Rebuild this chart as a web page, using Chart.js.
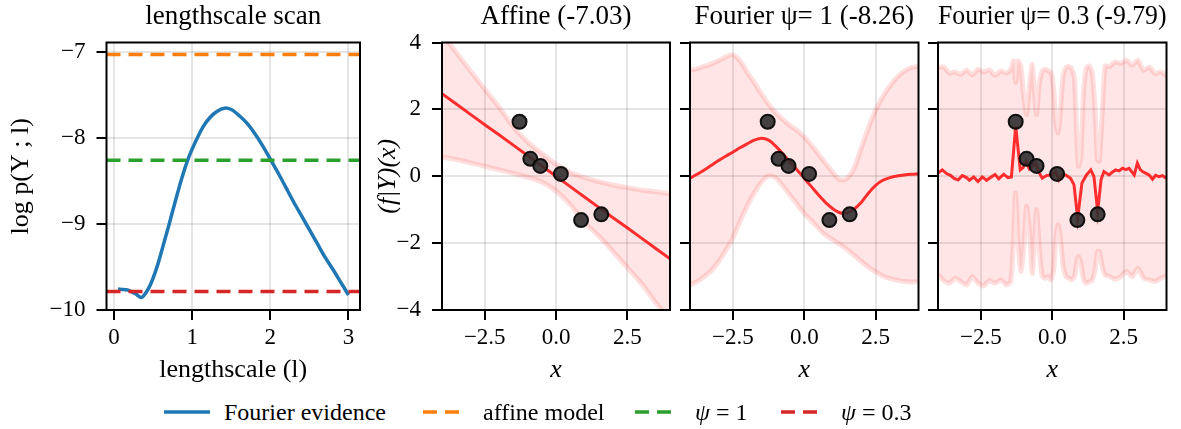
<!DOCTYPE html>
<html>
<head>
<meta charset="utf-8">
<script src="https://cdn.jsdelivr.net/npm/chart.js@4.4.1/dist/chart.umd.min.js"></script>
<style>
  html, body { margin: 0; padding: 0; background: #fff; }
  #wrap { position: relative; width: 1181px; height: 429px; overflow: hidden; font-family: 'Liberation Serif', serif; }
  #wrap canvas { position: absolute; top: 0; }
  .leg-text { position: absolute; top: 398px; font-size: 24px; line-height: 28px; white-space: nowrap; color: #000; }
  .leg-line { position: absolute; top: 400px; }
</style>
</head>
<body>
<div id="wrap">
  <canvas id="scan" width="375" height="390" style="left:0px"></canvas>
  <canvas id="affine" width="310" height="390" style="left:370px"></canvas>
  <canvas id="four1" width="252" height="390" style="left:676px"></canvas>
  <canvas id="four03" width="257" height="390" style="left:924px"></canvas>
</div>
<script>
// ---- lengthscale scan ----
const lsX = [0.05, 0.1, 0.16, 0.22, 0.28, 0.35, 0.41, 0.47, 0.55, 0.62, 0.7, 0.78, 0.87, 0.95, 1.04, 1.14, 1.23, 1.32,
  1.41, 1.5, 1.6, 1.7, 1.8, 1.9, 2.0, 2.1, 2.2, 2.3, 2.4, 2.5, 2.6, 2.7, 2.8, 2.9, 3.0];
const lsEvidence = [-9.76, -9.765, -9.77, -9.79, -9.82, -9.86, -9.80, -9.70, -9.50, -9.28, -9.02, -8.75, -8.46, -8.24,
  -8.05, -7.87, -7.76, -7.69, -7.655, -7.67, -7.74, -7.83, -7.95, -8.09, -8.25, -8.41, -8.58, -8.75, -8.91, -9.07,
  -9.23, -9.39, -9.53, -9.68, -9.83];
const refLevels = [-7.03, -8.26, -9.79];
const refColors = ['#ff7f0e', '#2ca02c', '#d62728'];
const lsTicks = [0, 1, 2, 3];
const evTicks = [-10, -9, -8, -7];

// ---- observations ----
const obsX = [-1.28, -0.9, -0.55, 0.17, 0.88, 1.59];
const obsY = [1.63, 0.52, 0.31, 0.07, -1.31, -1.14];

// ---- affine posterior ----
const affX = [-4, -3.5, -3, -2.5, -2, -1.5, -1, -0.5, 0, 0.5, 1, 1.5, 2, 2.5, 3, 3.5, 4];
const affMean = [2.47, 2.16, 1.85, 1.54, 1.24, 0.93, 0.62, 0.31, 0.0, -0.31, -0.62, -0.93, -1.24, -1.54, -1.85, -2.16, -2.47];
const affUpper = [4.25, 3.70, 3.15, 2.60, 2.07, 1.48, 1.03, 0.68, 0.36, 0.12, -0.04, -0.16, -0.26, -0.34, -0.41, -0.46, -0.52];
const affLower = [0.58, 0.50, 0.40, 0.30, 0.19, 0.09, -0.03, -0.17, -0.44, -0.85, -1.38, -1.79, -2.25, -2.73, -3.21, -3.78, -4.3];

// ---- Fourier psi = 1 ----
const f1X = [-4, -3.75, -3.5, -3.25, -3, -2.75, -2.5, -2.25, -2, -1.75, -1.5, -1.25, -1, -0.75, -0.5, -0.25, 0,
  0.25, 0.5, 0.75, 1, 1.25, 1.5, 1.75, 2, 2.25, 2.5, 2.75, 3, 3.25, 3.5, 3.75, 4];
const f1Mean = [-0.06, 0.06, 0.19, 0.33, 0.47, 0.60, 0.72, 0.85, 0.97, 1.08, 1.14, 1.08, 0.90, 0.67, 0.42, 0.19, -0.06,
  -0.31, -0.56, -0.79, -0.97, -1.09, -1.09, -0.98, -0.78, -0.50, -0.27, -0.12, -0.04, 0.01, 0.04, 0.06, 0.07];
const f1Upper = [3.18, 3.22, 3.29, 3.36, 3.46, 3.57, 3.63, 3.45, 3.11, 2.80, 2.47, 2.15, 1.90, 1.70, 1.52, 1.37, 1.18,
  0.93, 0.66, 0.38, 0.12, -0.10, -0.06, 0.25, 0.86, 1.45, 1.98, 2.38, 2.70, 2.96, 3.14, 3.25, 3.28];
const f1Lower = [-3.25, -3.15, -3.00, -2.82, -2.55, -2.22, -1.85, -1.35, -0.89, -0.50, -0.18, 0.01, -0.05, -0.29, -0.56,
  -0.84, -1.11, -1.33, -1.56, -1.76, -1.90, -2.04, -2.19, -2.37, -2.55, -2.72, -2.86, -2.98, -3.06, -3.11, -3.15, -3.16, -3.15];

// ---- Fourier psi = 0.3 ----
const f03MeanX = [-4.0, -3.85, -3.7, -3.55, -3.45, -3.3, -3.15, -3.0, -2.9, -2.75,
  -2.6, -2.45, -2.3, -2.15, -2.0, -1.87, -1.7, -1.55, -1.43, -1.28,
  -1.12, -1.02, -0.92, -0.8, -0.7, -0.58, -0.47, -0.35, -0.2, -0.05,
  0.12, 0.23, 0.35, 0.47, 0.64, 0.76, 0.89, 1.04, 1.2, 1.35,
  1.46, 1.59, 1.71, 1.81, 1.99, 2.1, 2.22, 2.34, 2.46, 2.58,
  2.69, 2.87, 2.98, 3.08, 3.16, 3.3, 3.39, 3.51, 3.62, 3.74,
  3.86, 3.98];
const f03Mean = [0.10, 0.19, 0.08, 0.02, -0.06, -0.11, 0.02, -0.04, -0.12, -0.02,
  -0.16, -0.02, -0.12, -0.03, 0.05, -0.08, 0.06, -0.04, -0.02, 1.50,
  0.19, 0.26, 0.44, 0.22, 0.30, 0.39, 0.12, -0.06, 0.02, 0.04,
  0.14, -0.11, 0.05, 0.04, -0.06, -0.25, -1.25, -0.2, 0.04, 0.19,
  -0.01, -1.05, -0.1, 0.14, 0.04, 0.12, 0.19, 0.16, 0.24, 0.20,
  0.24, 0.04, 0.39, 0.20, 0.14, 0.08, 0.04, -0.09, 0.03, -0.01,
  0.02, -0.06];
const f03BandX = [-4, -3.8, -3.6, -3.4, -3.2, -3.0, -2.8, -2.6, -2.4, -2.2,
  -2.0, -1.8, -1.6, -1.45, -1.35, -1.28, -1.2, -1.1, -1.0, -0.9,
  -0.8, -0.7, -0.62, -0.55, -0.45, -0.35, -0.25, -0.15, -0.05, 0.05,
  0.12, 0.2, 0.28, 0.38, 0.48, 0.58, 0.68, 0.78, 0.86, 0.92,
  1.0, 1.1, 1.2, 1.3, 1.4, 1.5, 1.58, 1.65, 1.75, 1.85,
  2.0, 2.2, 2.4, 2.6, 2.8, 3.0, 3.2, 3.4, 3.6, 3.8,
  4.0];
const f03Upper = [3.25, 3.27, 3.08, 3.12, 3.05, 3.18, 3.03, 3.20, 3.12, 3.18,
  3.02, 3.15, 3.08, 3.20, 3.45, 2.80, 3.45, 3.30, 2.40, 1.85,
  2.70, 3.35, 2.50, 1.85, 2.80, 3.15, 3.20, 3.15, 3.12, 2.60,
  1.60, 1.30, 1.90, 3.00, 3.25, 3.28, 3.22, 2.90, 1.20, 0.30,
  0.60, 2.60, 3.25, 3.30, 3.10, 2.00, 0.50, 0.45, 1.90, 3.30,
  3.28, 3.42, 3.37, 3.47, 3.32, 3.47, 3.17, 3.27, 3.07, 3.12,
  3.02];
const f03Lower = [-2.95, -3.12, -3.20, -3.05, -3.15, -3.25, -3.00, -3.20, -3.28, -3.12,
  -3.20, -3.10, -3.25, -3.15, -1.80, -0.50, -1.90, -2.85, -2.20, -0.90,
  -1.60, -2.90, -2.00, -1.00, -2.20, -3.00, -3.05, -3.00, -3.10, -2.80,
  -1.90, -1.45, -1.80, -2.70, -3.00, -3.05, -3.10, -3.00, -2.55, -2.40,
  -2.60, -3.10, -3.20, -3.15, -3.10, -2.80, -2.25, -2.25, -2.70, -2.95,
  -3.00, -3.08, -3.00, -2.85, -3.00, -2.75, -3.05, -3.10, -3.15, -3.05,
  -2.98];

const gpXTicks = [-2.5, 0, 2.5];
const gpYTicks = [-4, -2, 0, 2, 4];
const gpTitles = ['Affine (-7.03)', 'Fourier \u03c8= 1 (-8.26)', 'Fourier \u03c8= 0.3 (-9.79)'];

const legendLabels = ['Fourier evidence', 'affine model', '<i>\u03c8</i> = 1', '<i>\u03c8</i> = 0.3'];
const legendColors = ['#1f77b4', '#ff7f0e', '#2ca02c', '#d62728'];
const legendLeft = [224, 483, 695, 841];

Chart.defaults.font.family = "'Liberation Serif', serif";
Chart.defaults.color = '#000';
Chart.defaults.animation = false;

const pts = (xs, ys) => xs.map((x, i) => ({x: x, y: ys[i]}));
const minus = s => String(s).replace('-', '\u2212');

const frame = {
  id: 'frame',
  afterDatasetsDraw(chart) {
    const {ctx, chartArea: a} = chart;
    ctx.save();
    ctx.strokeStyle = '#000';
    ctx.lineWidth = 2;
    ctx.strokeRect(a.left, a.top, a.right - a.left, a.bottom - a.top);
    ctx.restore();
  }
};

const grid = {color: 'rgba(0,0,0,0.1)', lineWidth: 2, tickColor: '#000', tickWidth: 2, tickLength: 10};

function xAxis(ticks, min, max, label, italic, fmt) {
  return {
    type: 'linear', min: min, max: max,
    afterBuildTicks: s => { s.ticks = ticks.map(v => ({value: v})); },
    afterFit: s => { s.height = 80; },
    grid: grid,
    border: {display: false},
    ticks: {font: {size: 23}, padding: 4, maxRotation: 0, autoSkip: false, callback: fmt},
    title: {display: true, text: label, font: {size: 26, style: italic ? 'italic' : 'normal'},
            padding: {top: 0, bottom: 4}}
  };
}

function yAxis(ticks, min, max, width, label, showLabels) {
  return {
    type: 'linear', min: min, max: max,
    afterBuildTicks: s => { s.ticks = ticks.map(v => ({value: v})); },
    afterFit: s => { s.width = width; },
    grid: grid,
    border: {display: false},
    ticks: {display: showLabels, font: {size: 23}, padding: 11, autoSkip: false, callback: v => minus(v)},
    title: {display: !!label, text: label || '', font: {size: 26, style: 'italic'}, padding: {top: 3, bottom: 0}}
  };
}

function titleOpts(text) {
  return {display: true, text: text, fullSize: false, font: {size: 27, weight: 'normal'},
          color: '#000', padding: {top: 1, bottom: 9.1}};
}

const base = {
  type: 'scatter',
  plugins: [frame]
};

// ---- panel 1: lengthscale scan ----
const lsMin = -0.0975, lsMax = 3.1475;
const scanSets = refLevels.map((lv, i) => ({
  data: [{x: lsMin, y: lv}, {x: lsMax, y: lv}],
  showLine: true, borderColor: refColors[i], borderWidth: 3.5, borderDash: [14, 8],
  pointRadius: 0, order: 0, clip: 0
}));
scanSets.push({
  data: pts(lsX, lsEvidence), showLine: true, borderColor: '#1f77b4', borderWidth: 3.5,
  pointRadius: 0, tension: 0.3, order: 1, clip: 0
});
const yScan = yAxis(evTicks, -10.005, -6.89, 106.5, 'log p(Y ; l)', true);
yScan.title.font.style = 'normal';
yScan.title.padding = {top: 6, bottom: 0};
new Chart(document.getElementById('scan'), {
  ...base,
  data: {datasets: scanSets},
  options: {
    responsive: false, devicePixelRatio: 1,
    layout: {padding: {left: 0, right: 15, top: 0, bottom: 0}, autoPadding: false},
    plugins: {legend: {display: false}, tooltip: {enabled: false}, title: titleOpts('lengthscale scan')},
    scales: {
      x: xAxis(lsTicks, lsMin, lsMax, 'lengthscale (l)', false, v => String(v)),
      y: yScan
    }
  }
});

// ---- GP panels ----
function gpSets(bandX, upper, lower, meanX, mean, tBand, tMean) {
  return [
    {data: pts(obsX, obsY), showLine: false, pointRadius: 7, pointBorderWidth: 2,
     pointBackgroundColor: 'rgba(48,44,46,0.9)', pointBorderColor: 'rgba(10,10,10,0.95)', order: 0},
    {data: pts(meanX, mean), showLine: true, borderColor: 'rgba(255,0,0,0.8)', borderWidth: 3,
     pointRadius: 0, tension: tMean, order: 1, clip: 0},
    {data: pts(bandX, upper), showLine: true, borderColor: 'rgba(255,0,0,0.12)', borderWidth: 5,
     backgroundColor: 'rgba(255,0,0,0.1)', fill: '+1', pointRadius: 0, tension: tBand, order: 2, clip: 0},
    {data: pts(bandX, lower), showLine: true, borderColor: 'rgba(255,0,0,0.12)', borderWidth: 5,
     fill: false, pointRadius: 0, tension: tBand, order: 3, clip: 0}
  ];
}

function gpChart(id, title, sets, yWidth, padRight, yLabel, showY) {
  new Chart(document.getElementById(id), {
    ...base,
    data: {datasets: sets},
    options: {
      responsive: false, devicePixelRatio: 1,
      layout: {padding: {left: 0, right: padRight, top: 0, bottom: 0}, autoPadding: false},
      plugins: {legend: {display: false}, tooltip: {enabled: false}, title: titleOpts(title)},
      scales: {
        x: xAxis(gpXTicks, -4, 4, 'x', true, v => minus(v.toFixed(1))),
        y: yAxis(gpYTicks, -4, 4, yWidth, yLabel, showY)
      }
    }
  });
}

gpChart('affine', gpTitles[0], gpSets(affX, affUpper, affLower, affX, affMean, 0.3, 0), 72, 10, '(f|Y)(x)', true);
gpChart('four1', gpTitles[1], gpSets(f1X, f1Upper, f1Lower, f1X, f1Mean, 0.3, 0.3), 14, 9.5, null, false);
gpChart('four03', gpTitles[2], gpSets(f03BandX, f03Upper, f03Lower, f03MeanX, f03Mean, 0.2, 0), 14, 14.5, null, false);

// ---- legend ----
const wrap = document.getElementById('wrap');
legendLabels.forEach((lab, i) => {
  const x0 = legendLeft[i] - 60;
  const svg = document.createElementNS('http://www.w3.org/2000/svg', 'svg');
  svg.setAttribute('class', 'leg-line');
  svg.setAttribute('width', '46');
  svg.setAttribute('height', '24');
  svg.style.left = x0 + 'px';
  const ln = document.createElementNS('http://www.w3.org/2000/svg', 'line');
  ln.setAttribute('x1', '0'); ln.setAttribute('x2', i > 0 ? '36' : '46');
  ln.setAttribute('y1', '12'); ln.setAttribute('y2', '12');
  ln.setAttribute('stroke', legendColors[i]);
  ln.setAttribute('stroke-width', '3.5');
  if (i > 0) ln.setAttribute('stroke-dasharray', '14 8');
  svg.appendChild(ln);
  wrap.appendChild(svg);
  const t = document.createElement('div');
  t.className = 'leg-text';
  t.style.left = legendLeft[i] + 'px';
  t.innerHTML = lab;
  wrap.appendChild(t);
});
</script>
</body>
</html>
